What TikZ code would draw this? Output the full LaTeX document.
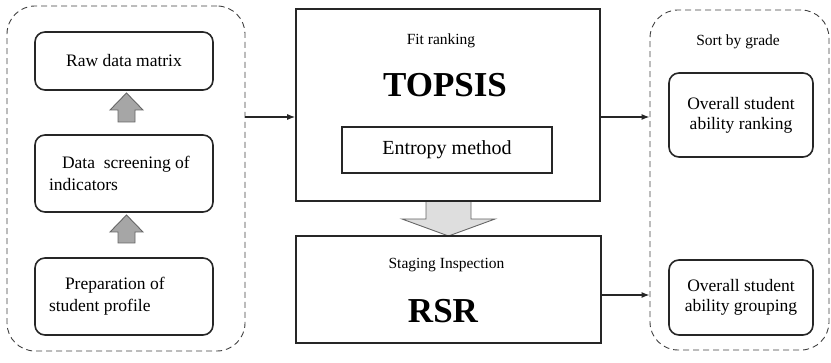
\documentclass[tikz,border=0pt]{standalone}
\usepackage{fontspec}
\setmainfont{Liberation Serif}
\usetikzlibrary{arrows.meta,calc}
\begin{document}
\begin{tikzpicture}[x=1pt,y=-1pt,
  dashbox/.style={draw=black!75, line width=0.9pt, dash pattern=on 6pt off 4pt, rounded corners=28pt, minimum width=#1, inner sep=0pt},
  rbox/.style={draw=black!85, line width=1.6pt, rounded corners=10pt, inner sep=0pt, minimum width=178pt, font=\fontsize{17.5}{22}\selectfont},
  rrbox/.style={draw=black!85, line width=1.6pt, rounded corners=10pt, inner sep=0pt, minimum width=144pt, align=center, font=\fontsize{17.5}{20}\selectfont},
  sbox/.style={draw=black!85, line width=1.6pt, inner sep=0pt},
  small/.style={font=\fontsize{15.5}{18}\selectfont},
  big/.style={font=\fontsize{35}{40}\selectfont\bfseries},
  conn/.style={line width=1.2pt, black!85, -{Latex[length=8pt,width=6pt]}},
  uparrow/.style={draw=black!60, line width=0.9pt, fill=black!35},
  downfill/.style={fill=black!13},
  downline/.style={draw=black!60, line width=0.9pt}
]
\useasboundingbox (0,0) rectangle (831,363);

% dashed groups
\node[dashbox=238pt, minimum height=345pt] (leftdash) at (126,178.5) {};
\node[dashbox=179pt, minimum height=340pt] (rightdash) at (739.5,180) {};

% left column
\node[rbox, minimum height=58pt] (raw) at (124,61) {Raw data matrix};
\node[rbox, minimum height=77pt, text width=150pt, inner xsep=14pt, align=flush left] (screen) at (124,173.5)
  {\hspace*{13pt}Data\ \ screening of\\indicators};
\node[rbox, minimum height=77pt, text width=150pt, inner xsep=14pt, align=flush left] (prep) at (124,296.5)
  {\hspace*{16pt}Preparation of\\student profile};

\path[uparrow] (118,122) -- (118,110) -- (110,110) -- (126.5,93) -- (143,110) -- (135,110) -- (135,122) -- cycle;
\path[uparrow] (118,243) -- (118,232) -- (110,232) -- (126.5,215) -- (143,232) -- (135,232) -- (135,243) -- cycle;

% centre
\fill[downfill] (426,201) -- (426,219) -- (402,219) -- (448.5,236) -- (495,219) -- (471,219) -- (471,201) -- cycle;
\draw[downline] (426,201) -- (426,219) -- (402,219) -- (448.5,236) -- (495,219) -- (471,219) -- (471,201);

\node[sbox, minimum width=304pt, minimum height=192pt] (topsis) at (448,105) {};
\node[small] (fit) at (441,41) {Fit ranking};
\node[big] (topsistext) at (445,85) {TOPSIS};
\node[sbox, minimum width=210pt, minimum height=46pt, font=\fontsize{20}{24}\selectfont] (entropy) at (447,150) {Entropy method};

\node[sbox, minimum width=305pt, minimum height=107pt] (rsr) at (448.5,289.5) {};
\node[small] (staging) at (446.5,265) {Staging Inspection};
\node[big] (rsrtext) at (443,311) {RSR};

% right column
\node[small] (sort) at (738,42) {Sort by grade};
\node[rrbox, minimum height=84pt] (rank) at (741,115) {Overall student\\ability ranking};
\node[rrbox, minimum height=75pt] (group) at (741,297.5) {Overall student\\ability grouping};

% connectors
\coordinate (ya) at (0,117);
\coordinate (yb) at (0,295);
\draw[conn] (leftdash.east |- ya) -- (topsis.west |- ya);
\draw[conn] (topsis.east |- ya) -- (rightdash.west |- ya);
\draw[conn] (rsr.east |- yb) -- (rightdash.west |- yb);
\end{tikzpicture}
\end{document}
